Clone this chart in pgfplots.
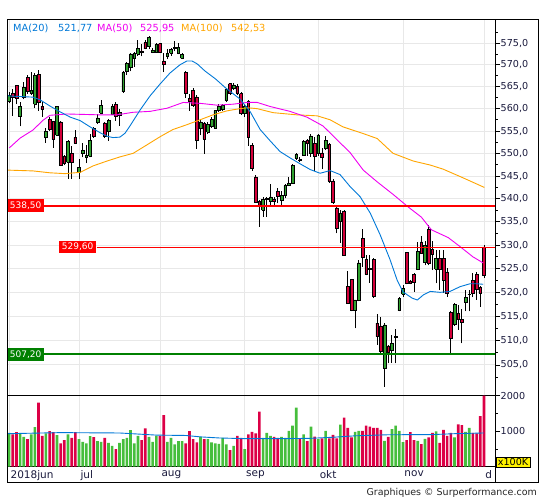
\documentclass[border=0pt]{standalone}
\usepackage{fontspec}
\setmainfont{DejaVu Sans}
\usepackage{pgfplots}
\usepackage{pgfplotstable}
\pgfplotsset{compat=1.18}
\definecolor{candlered}{RGB}{212,0,58}
\definecolor{candlegreen}{RGB}{46,160,46}
\definecolor{volred}{RGB}{220,0,70}
\definecolor{volgreen}{RGB}{70,190,60}
\definecolor{maone}{RGB}{0,120,215}
\definecolor{matwo}{RGB}{240,0,240}
\definecolor{mathree}{RGB}{255,165,0}
\definecolor{gridc}{RGB}{232,232,232}
\definecolor{labelcol}{RGB}{25,25,60}
\definecolor{lvlred}{RGB}{255,0,0}
\definecolor{lvlgreen}{RGB}{0,128,0}

\pgfplotstableread{
i o h l c v
0 561.6 563.8 561.2 563.0 956
1 563.4 564.5 558.4 562.5 909
2 565.3 565.4 561.0 562.3 975
3 558.2 561.4 556.0 560.4 937
4 562.5 566.1 562.1 564.9 843
5 567.1 567.6 563.4 563.9 777
6 563.5 568.3 563.2 564.1 909
7 561.0 568.2 560.1 567.6 1116
8 567.7 568.9 559.5 561.4 1804
9 560.6 561.6 558.2 559.8 871
10 553.5 555.7 552.4 555.0 937
11 557.6 558.2 555.0 555.3 1003
12 557.2 557.3 551.3 553.1 975
13 554.0 560.6 553.8 560.4 890
14 557.0 557.3 547.2 547.4 655
15 549.3 549.6 547.4 547.8 749
16 548.0 552.9 544.3 552.6 909
17 550.0 551.6 544.3 548.0 815
18 553.5 555.3 552.1 552.2 975
19 545.8 548.7 544.3 546.8 777
20 550.0 552.4 549.1 550.6 702
21 549.1 551.8 547.8 549.6 655
22 549.4 554.4 549.1 552.8 862
23 555.5 555.9 553.5 553.8 834
24 557.0 558.8 556.5 557.9 720
25 559.0 561.9 558.7 560.8 702
26 556.8 557.0 553.5 553.7 815
27 555.0 557.6 552.8 557.3 674
28 558.8 561.0 558.7 560.4 589
29 560.9 561.4 557.3 558.4 495
30 558.5 559.9 556.2 559.2 674
31 563.9 568.5 563.6 568.2 777
32 568.4 570.7 567.6 570.3 815
33 569.4 572.8 568.5 572.5 1031
34 571.4 573.0 569.5 572.6 655
35 572.5 575.8 572.1 573.8 871
36 573.2 574.7 571.9 573.0 749
37 575.1 575.8 573.6 573.7 1078
38 574.2 576.7 573.7 576.4 843
39 572.8 574.0 572.7 573.4 702
40 573.0 575.1 572.8 574.7 871
41 574.9 575.1 572.7 572.8 871
42 570.9 572.8 568.3 570.2 1455
43 571.9 573.6 571.3 572.7 700
44 572.7 574.0 572.1 573.6 815
45 573.9 575.5 573.1 574.1 627
46 572.6 575.1 572.4 574.0 720
47 571.5 572.8 571.3 572.4 720
48 568.2 568.6 562.5 563.6 655
49 562.3 563.4 559.6 561.6 1003
50 564.2 564.7 560.4 560.8 777
51 562.7 563.0 551.0 552.9 683
52 555.7 557.4 554.0 557.0 843
53 556.6 557.0 549.9 553.2 777
54 554.8 556.9 554.4 556.4 777
55 556.1 558.1 555.7 557.6 683
56 555.7 559.8 555.6 559.6 655
57 559.6 561.1 559.3 560.6 640
58 559.9 561.0 559.6 560.7 815
59 561.9 564.7 561.5 564.5 627
60 565.7 565.9 563.2 563.4 466
61 564.7 565.9 564.2 565.4 589
62 565.0 565.7 563.2 563.6 871
63 563.4 563.8 558.6 558.9 815
64 558.9 561.0 558.1 560.4 495
65 561.6 562.0 551.7 553.6 909
66 551.8 552.2 546.2 546.6 984
67 544.8 545.3 539.1 539.3 937
68 539.5 539.7 533.9 538.6 1550
69 537.6 540.3 536.1 539.9 815
70 539.8 540.4 536.1 540.1 956
71 539.5 543.3 538.6 540.4 871
72 539.8 540.5 538.6 539.5 843
73 541.6 542.3 539.0 540.5 815
74 539.7 541.6 538.6 540.8 843
75 540.8 543.3 540.1 542.9 815
76 542.9 544.7 542.8 543.3 1012
77 543.3 547.7 543.2 547.3 1154
78 549.0 550.1 548.6 549.7 1663
79 548.6 549.3 548.0 548.5 777
80 549.5 552.9 549.5 552.6 909
81 552.9 553.1 549.5 552.3 720
82 549.9 554.3 549.2 553.9 1126
83 552.2 553.7 546.2 549.3 850
84 549.9 554.3 549.5 554.1 777
85 550.1 551.1 546.5 549.2 796
86 551.1 553.8 550.7 552.9 1012
87 552.0 552.2 543.5 543.9 796
88 543.9 544.4 538.9 539.2 900
89 538.0 538.3 532.5 533.6 796
90 535.0 537.6 530.5 536.8 1182
91 537.3 537.5 527.9 527.9 1380
92 521.2 524.5 517.8 517.8 1097
93 522.7 522.9 516.0 516.2 824
94 516.2 518.4 512.5 518.4 984
95 518.3 526.9 518.1 526.2 1012
96 531.4 533.4 525.4 527.5 1012
97 527.0 527.9 523.6 523.8 1154
98 525.0 527.9 522.0 524.9 1126
99 527.0 527.2 518.8 519.1 1097
100 513.6 515.5 509.1 510.8 1097
101 513.0 514.9 507.5 507.7 1041
102 504.4 513.6 500.6 513.2 730
103 508.9 509.1 505.3 507.5 843
104 507.9 511.2 505.4 509.4 1060
105 510.6 512.3 505.3 510.8 1154
106 516.2 519.0 516.0 518.7 1012
107 519.6 521.6 519.0 520.9 692
108 528.4 528.6 521.7 521.9 749
109 522.4 522.6 521.7 521.9 975
110 523.8 524.0 520.1 522.2 749
111 524.8 530.7 524.7 528.6 730
112 530.7 531.9 528.2 528.3 636
113 526.3 531.0 525.7 530.0 787
114 533.4 534.3 525.7 526.1 824
115 529.1 531.0 524.7 528.1 956
116 524.9 528.9 521.9 527.2 994
117 527.2 528.9 520.5 524.9 674
118 527.2 528.9 519.9 522.6 1041
119 524.3 525.1 519.1 519.8 871
120 515.8 516.0 507.2 510.4 956
121 513.4 517.8 513.0 517.4 824
122 515.6 517.4 512.2 514.3 1192
123 514.4 516.6 509.4 513.7 1173
124 518.0 520.5 516.0 519.0 984
125 519.5 520.5 516.0 519.6 1097
126 522.6 524.0 519.0 519.9 956
127 523.7 524.2 518.5 520.7 937
128 521.0 521.3 517.0 519.9 1427
129 529.6 530.0 523.0 523.5 2000
}\candles

\begin{document}
\begin{tikzpicture}
\useasboundingbox (0,0) rectangle (545bp,-500bp);

\begin{axis}[
  at={(7bp,-19.3bp)}, anchor=north west, scale only axis,
  width=488bp, height=376.4bp,
  xmin=-0.57, xmax=132, ymode=log, ymin=498.8, ymax=580.6,
  axis line style={black, line width=0.8bp},
  xtick={0,19,41,64,84,107,129}, xticklabels={}, xtick style={draw=none},
  ytick={505,510,515,520,525,530,535,540,545,550,555,560,565,570,575},
  minor ytick={502.5,507.5,512.5,517.5,522.5,527.5,532.5,537.5,542.5,547.5,552.5,557.5,562.5,567.5,572.5,577.5},
  ytick pos=right, yticklabel pos=right,
  tick align=outside, major tick length=5bp, minor tick length=2.5bp,
  ytick style={black, line width=0.8bp},
  xmajorgrids, ymajorgrids, major grid style={gridc, line width=0.9bp},
  yticklabel={\pgfmathparse{round(exp(\tick))}\pgfmathprintnumber[fixed,fixed zerofill,precision=1,use comma,assume math mode=true]{\pgfmathresult}},
  yticklabel style={font=\fontsize{9.6bp}{10bp}\selectfont, text=labelcol, inner sep=0pt, xshift=0.5bp},
]
\pgfplotsinvokeforeach{0,...,129}{%
  \pgfplotstablegetelem{#1}{o}\of\candles \let\cO\pgfplotsretval
  \pgfplotstablegetelem{#1}{h}\of\candles \let\cH\pgfplotsretval
  \pgfplotstablegetelem{#1}{l}\of\candles \let\cL\pgfplotsretval
  \pgfplotstablegetelem{#1}{c}\of\candles \let\cC\pgfplotsretval
  \ifdim\cC pt<\cO pt \def\cColor{candlered}\else\def\cColor{candlegreen}\fi
  \pgfmathsetmacro\xa{#1-0.37}\pgfmathsetmacro\xb{#1+0.37}
  \edef\temp{\noexpand\addplot[black, line width=0.9bp, forget plot] coordinates {(#1,\cL) (#1,\cH)};
    \noexpand\addplot[fill=\cColor, draw=black, line width=0.6bp, forget plot] coordinates {(\xa,\cO) (\xb,\cO) (\xb,\cC) (\xa,\cC) (\xa,\cO)};}%
  \temp
}
% MA(100)
\addplot[mathree, line width=0.9bp] coordinates {(-0.57,546.3) (6.5,546.1) (11.1,545.7) (15.2,545.5) (19.3,545.8) (22.8,547.2) (26.6,548.3) (30.1,549.2) (33.7,550.0) (37.5,551.9) (41.0,553.7) (44.5,555.3) (48.3,556.4) (51.9,557.5) (55.4,558.6) (59.2,559.5) (62.7,560.0) (64.9,560.2) (67.4,560.0) (71.7,559.1) (78.2,558.6) (83.7,558.4) (87.2,557.5) (90.7,555.9) (96.2,554.4) (100.0,553.3) (104.3,550.0) (109.8,548.3) (114.4,547.4) (117.9,546.5) (123.3,544.6) (129.1,542.5)};
% MA(50)
\addplot[matwo, line width=0.9bp] coordinates {(0.05,551.2) (3.0,553.4) (6.5,555.2) (9.2,557.4) (11.1,558.5) (15.7,558.8) (24.7,558.6) (29.3,558.6) (33.7,559.2) (38.3,559.4) (42.9,560.1) (47.3,561.4) (51.9,561.2) (56.5,560.8) (60.8,561.0) (64.6,561.4) (67.4,561.4) (70.9,560.5) (76.3,559.4) (80.9,558.1) (85.3,556.1) (89.1,553.0) (92.6,550.2) (96.2,546.3) (100.0,543.7) (104.4,540.9) (108.3,538.3) (112.0,536.0) (114.7,533.3) (119.3,531.6) (122.5,529.7) (126.0,527.5) (128.8,526.2)};
% MA(20)
\addplot[maone, line width=0.9bp] coordinates {(-0.57,562.9) (6.5,562.6) (8.4,562.0) (11.1,560.6) (13.8,559.3) (16.6,558.1) (19.3,557.3) (22.0,555.9) (24.7,554.6) (26.6,553.8) (28.2,553.5) (30.1,553.6) (31.5,554.5) (32.9,556.2) (35.6,559.7) (38.3,562.9) (41.0,565.6) (43.7,568.1) (46.4,570.0) (48.3,570.9) (49.7,570.9) (51.1,570.2) (53.2,568.6) (56.0,566.8) (58.7,564.8) (62.7,562.2) (65.5,559.3) (68.2,555.3) (70.9,552.8) (73.6,550.4) (76.3,549.0) (79.0,547.7) (81.8,546.4) (84.5,545.6) (87.2,546.2) (89.9,545.3) (92.6,542.7) (95.4,540.4) (98.1,536.9) (100.8,532.2) (103.5,526.9) (105.4,522.6) (107.0,520.1) (109.5,518.8) (110.9,518.4) (112.6,519.5) (114.4,520.2) (117.1,520.0) (119.8,520.2) (122.5,521.2) (125.2,521.8) (127.1,521.8) (128.8,521.7)};
% levels
\addplot[lvlred, line width=1.9bp] coordinates {(-0.57,538.5) (132,538.5)};
\addplot[lvlred, line width=0.9bp] coordinates {(23.75,529.6) (132,529.6)};
\addplot[lvlgreen, line width=1.9bp] coordinates {(-0.57,507.2) (132,507.2)};
\node[fill=lvlred, text=white, anchor=west, inner xsep=2.75bp, inner ysep=2.8bp, text height=6.6bp, text depth=0.6bp, font=\fontsize{9bp}{9bp}\selectfont] at (axis cs:-0.57,538.5) {538,50};
\node[fill=lvlred, text=white, anchor=west, inner xsep=2.75bp, inner ysep=2.8bp, text height=6.6bp, text depth=0.6bp, font=\fontsize{9bp}{9bp}\selectfont] at (axis cs:13.56,529.6) {529,60};
\node[fill=lvlgreen, text=white, anchor=west, inner xsep=2.75bp, inner ysep=2.8bp, text height=6.6bp, text depth=0.6bp, font=\fontsize{9bp}{9bp}\selectfont] at (axis cs:-0.57,507.2) {507,20};
\end{axis}

\begin{axis}[
  at={(7bp,-395.7bp)}, anchor=north west, scale only axis,
  width=488bp, height=71bp,
  xmin=-0.57, xmax=132, ymin=0, ymax=2000,
  axis line style={black, line width=0.8bp},
  xtick={0,19,41,64,84,107,129}, xticklabels={2018jun,jul,aug,sep,okt,nov,d},
  xtick style={draw=none},
  xticklabel style={anchor=north west, inner sep=0pt, xshift=1.3bp, yshift=1bp, font=\fontsize{10.5bp}{11bp}\selectfont, text=labelcol},
  ytick={1000,2000}, minor ytick={500,1500},
  ytick pos=right, yticklabel pos=right,
  tick align=outside, major tick length=5bp, minor tick length=2.5bp,
  ytick style={black, line width=0.8bp},
  /pgf/number format/1000 sep={}, /pgf/number format/assume math mode=true,
  yticklabel style={font=\fontsize{9.6bp}{10bp}\selectfont, text=labelcol, inner sep=0pt, xshift=0.5bp},
  xmajorgrids, major grid style={gridc, line width=0.9bp},
]
\addplot[ybar, bar width=0.72, bar shift=0pt, fill=volgreen, draw=none, restrict expr to domain={\thisrow{c}-\thisrow{o}}{0:1000}] table[x=i, y=v] {\candles};
\addplot[ybar, bar width=0.72, bar shift=0pt, fill=volred, draw=none, restrict expr to domain={\thisrow{c}-\thisrow{o}}{-1000:-0.01}] table[x=i, y=v] {\candles};
\addplot[maone, line width=0.9bp] coordinates {(-0.57,930) (14,960) (30,950) (40,890) (48,880) (52,840) (57,810) (64,790) (75,790) (82,800) (88,830) (94,870) (103,900) (115,905) (121,930) (129,950)};
\end{axis}

\draw[black, line width=0.8bp] (7bp,-19.3bp) rectangle (538bp,-482.7bp);
\draw[black, line width=0.8bp] (495bp,-466.7bp) -- (495bp,-482.7bp);
\node[fill=yellow, draw=black, line width=0.6bp, inner sep=1.6bp, anchor=north west, font=\fontsize{9.6bp}{10bp}\selectfont] at (496bp,-456.7bp) {x100K};

\begin{scope}[every node/.style={anchor=base west, inner sep=0pt, font=\fontsize{9.8bp}{10bp}\selectfont}]
\node[text=maone] at (13bp,-31bp) {MA(20)};
\node[text=maone] at (58bp,-31bp) {521,77};
\node[text=matwo] at (97bp,-31bp) {MA(50)};
\node[text=matwo] at (140bp,-31bp) {525,95};
\node[text=mathree] at (181bp,-31bp) {MA(100)};
\node[text=mathree] at (231bp,-31bp) {542,53};
\end{scope}
\node[anchor=base east, inner sep=0pt, text=black!85, font=\fontsize{9.5bp}{10bp}\selectfont] at (537bp,-495bp) {Graphiques © Surperformance.com};
\end{tikzpicture}
\end{document}
